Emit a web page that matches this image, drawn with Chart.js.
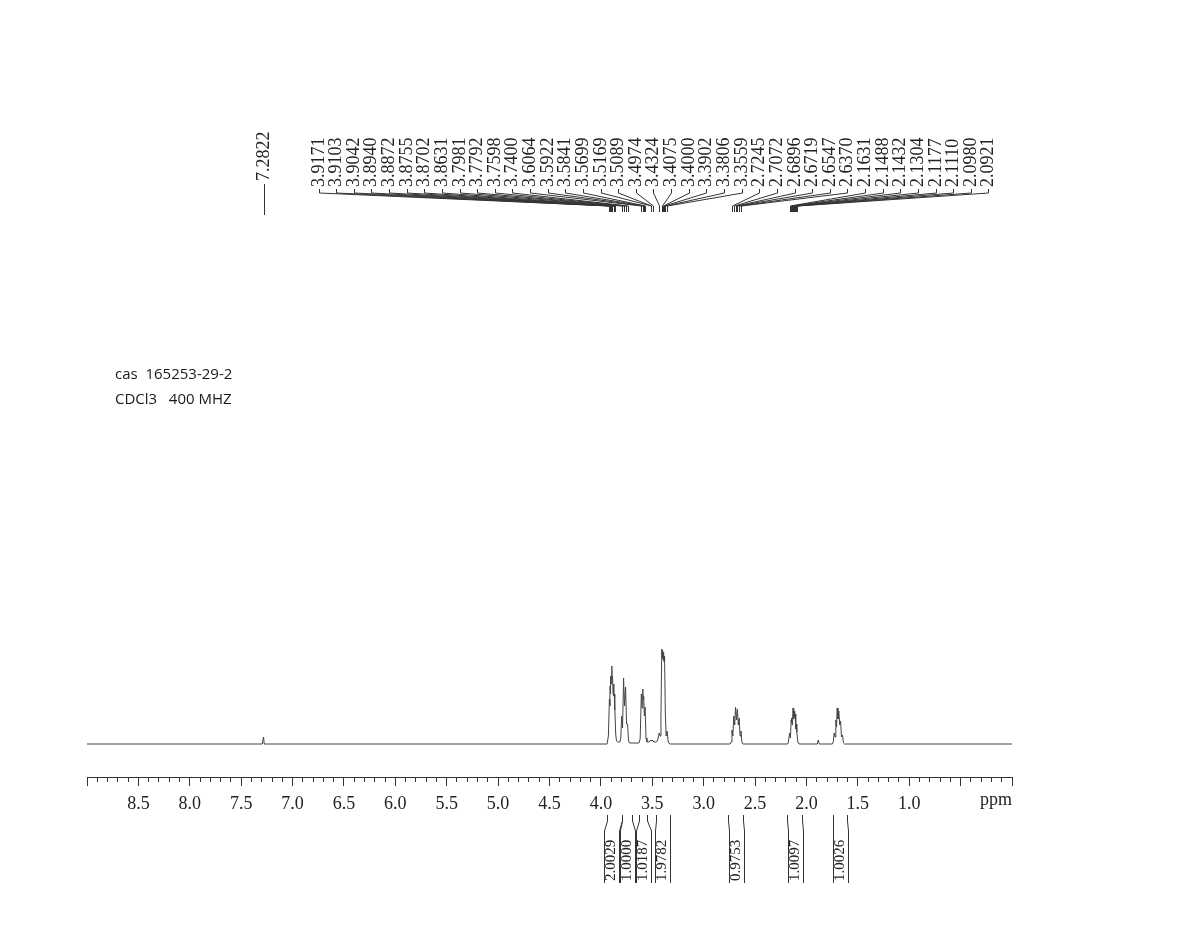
<!DOCTYPE html>
<html><head><meta charset="utf-8">
<script src="https://cdn.jsdelivr.net/npm/chart.js@4.4.1/dist/chart.umd.min.js"></script>
<style>html,body{margin:0;padding:0;background:#fff;overflow:hidden}canvas{display:block}</style>
</head><body>
<canvas id="c" width="1180" height="952"></canvas>
<script>
// ---- spectrum (ppm, intensity), left to right ----
const baseAPpm = [9.0, 7.295];                 const baseAInt = [0, 0];
const solvPpm  = [7.288, 7.2822, 7.276];       const solvInt  = [0, 7, 0];
const baseBPpm = [5.5, 3.94];                  const baseBInt = [0, 0];
const m390Ppm = [3.935, 3.927, 3.9171, 3.9135, 3.9103, 3.907, 3.9042, 3.899, 3.8940, 3.8905, 3.8872, 3.881, 3.8755, 3.8728, 3.8702, 3.867, 3.8631, 3.856, 3.848, 3.835];
const m390Int = [0, 8, 45, 38, 58, 50, 68, 60, 78, 64, 68, 50, 60, 48, 50, 34, 38, 10, 3, 2];
const m378Ppm = [3.815, 3.806, 3.7981, 3.789, 3.7792, 3.770, 3.7598, 3.750, 3.7400, 3.731, 3.72];
const m378Int = [2, 6, 28, 16, 66, 38, 57, 20, 20, 3, 1];
const m359Ppm = [3.63, 3.618, 3.6064, 3.599, 3.5922, 3.5885, 3.5841, 3.577, 3.5699, 3.561, 3.552];
const m359Int = [1, 5, 50, 36, 55, 44, 48, 28, 37, 6, 2];
const m350Ppm = [3.53, 3.5169, 3.5125, 3.5089, 3.503, 3.4974, 3.485, 3.465];
const m350Int = [2, 4, 3, 4, 3, 4, 2, 2];
const m340Ppm = [3.45, 3.4324, 3.424, 3.4155, 3.4075, 3.4035, 3.4000, 3.3950, 3.3902, 3.3855, 3.3806, 3.373, 3.365, 3.3559, 3.345, 3.33];
const m340Int = [3, 11, 8, 30, 95, 86, 94, 84, 92, 82, 88, 30, 8, 13, 2, 0];
const baseCPpm = [3.2, 2.75];                  const baseCInt = [0, 0];
const m269Ppm = [2.742, 2.733, 2.7245, 2.716, 2.7072, 2.698, 2.6896, 2.681, 2.6719, 2.663, 2.6547, 2.646, 2.6370, 2.628, 2.618];
const m269Int = [0, 2, 14, 8, 28, 19, 37, 24, 35, 19, 26, 8, 13, 2, 0];
const baseDPpm = [2.4, 2.185];                 const baseDInt = [0, 0];
const m213Ppm = [2.178, 2.1631, 2.156, 2.1488, 2.146, 2.1432, 2.137, 2.1304, 2.124, 2.1177, 2.1145, 2.1110, 2.104, 2.0980, 2.0955, 2.0921, 2.083, 2.072];
const m213Int = [1, 11, 6, 24, 21, 26, 19, 36, 25, 33, 27, 30, 15, 20, 16, 12, 2, 0];
const m188Ppm = [1.895, 1.885, 1.875];         const m188Int = [0, 4, 0];
const m170Ppm = [1.748, 1.739, 1.730, 1.722, 1.714, 1.707, 1.701, 1.693, 1.685, 1.676, 1.668, 1.659, 1.649, 1.640, 1.630];
const m170Int = [0, 2, 11, 7, 24, 17, 36, 25, 33, 19, 23, 7, 9, 1, 0];
const baseEPpm = [1.4, 0.0];                   const baseEInt = [0, 0];

// ---- peak pick labels ----
const solventLabel = '7.2822';
const peakLabels = ['3.9171','3.9103','3.9042','3.8940','3.8872','3.8755','3.8702','3.8631','3.7981','3.7792','3.7598','3.7400','3.6064','3.5922','3.5841','3.5699','3.5169','3.5089','3.4974','3.4324','3.4075','3.4000','3.3902','3.3806','3.3559','2.7245','2.7072','2.6896','2.6719','2.6547','2.6370','2.1631','2.1488','2.1432','2.1304','2.1177','2.1110','2.0980','2.0921'];

// ---- integrals ----
const intFrom = [3.944, 3.798, 3.629, 3.467, 2.761, 2.193, 1.740];
const intTo   = [3.798, 3.700, 3.549, 3.328, 2.615, 2.042, 1.604];
const intVals = ['2.0029','1.0000','1.0187','1.9782','0.9753','1.0097','1.0026'];

// ---- axis ----
const majorTickLabels = ['8.5','8.0','7.5','7.0','6.5','6.0','5.5','5.0','4.5','4.0','3.5','3.0','2.5','2.0','1.5','1.0'];
const infoLines = ['cas  165253-29-2', 'CDCl3   400 MHZ'];

// layout constants
const LABEL_X0 = 318.5, LABEL_DX = 17.63, LABEL_BOTTOM = 187;
const INT_LABEL_X = [611.5, 627, 643.5, 662, null, null, null];

const segP = [baseAPpm, solvPpm, baseBPpm, m390Ppm, m378Ppm, m359Ppm, m350Ppm, m340Ppm, baseCPpm, m269Ppm, baseDPpm, m213Ppm, m188Ppm, m170Ppm, baseEPpm];
const segI = [baseAInt, solvInt, baseBInt, m390Int, m378Int, m359Int, m350Int, m340Int, baseCInt, m269Int, baseDInt, m213Int, m188Int, m170Int, baseEInt];
const spectrum = [];
segP.forEach((arr, k) => arr.forEach((p, j) => spectrum.push({x: p, y: segI[k][j]})));

function isMajor(v) { const t = Math.round(v * 10); return t % 5 === 0; }

function rotText(ctx, s, x, y) {
  ctx.save();
  ctx.translate(x, y);
  ctx.rotate(-Math.PI / 2);
  ctx.textAlign = 'left';
  ctx.textBaseline = 'middle';
  ctx.fillText(s, 0, 0);
  ctx.restore();
}

const annot = {
  id: 'annot',
  afterDraw(chart) {
    const ctx = chart.ctx, xs = chart.scales.x;
    const px = (v) => Math.round(xs.getPixelForValue(v)) + 0.5;
    ctx.save();
    // info text
    ctx.fillStyle = '#1a1a1a';
    ctx.font = '15px "Open Sans"';
    ctx.textAlign = 'left'; ctx.textBaseline = 'middle';
    ctx.fillText(infoLines[0], 115, 375);
    ctx.fillText(infoLines[1], 115, 400);
    // ppm unit
    ctx.font = '18px "Liberation Serif"';
    ctx.fillStyle = '#222';
    ctx.textAlign = 'right'; ctx.textBaseline = 'top';
    ctx.fillText('ppm', xs.right, xs.top + 9 + 5);

    // peak labels
    ctx.strokeStyle = '#333'; ctx.lineWidth = 1;
    ctx.fillStyle = '#222';
    ctx.font = '18px "Liberation Serif"';
    const sx = px(parseFloat(solventLabel));
    rotText(ctx, solventLabel, sx, 181);
    ctx.beginPath(); ctx.moveTo(sx, 184); ctx.lineTo(sx, 215); ctx.stroke();
    peakLabels.forEach((s, i) => {
      const lx = Math.round(LABEL_X0 + i * LABEL_DX) + 0.5;
      const p = px(parseFloat(s));
      rotText(ctx, s, lx, LABEL_BOTTOM);
      ctx.beginPath();
      ctx.moveTo(lx, LABEL_BOTTOM + 2);
      ctx.lineTo(lx, 193);
      ctx.lineTo(p, 206);
      ctx.lineTo(p, 212);
      ctx.stroke();
    });

    // integrals
    ctx.font = '15px "Liberation Serif"';
    intVals.forEach((s, i) => {
      const a = px(intFrom[i]), b = px(intTo[i]);
      const cx = INT_LABEL_X[i] !== null ? INT_LABEL_X[i] : (a + b) / 2;
      const l = Math.round(cx - 7.5) + 0.5, r = Math.round(cx + 7.5) + 0.5;
      ctx.beginPath();
      ctx.moveTo(a, 815); ctx.lineTo(a, 821); ctx.lineTo(l, 831); ctx.lineTo(l, 883);
      ctx.moveTo(b, 815); ctx.lineTo(b, 821); ctx.lineTo(r, 831); ctx.lineTo(r, 883);
      ctx.stroke();
      rotText(ctx, s, cx, 881);
    });
    ctx.restore();
  }
};

new Chart(document.getElementById('c'), {
  type: 'scatter',
  data: { datasets: [{
    data: spectrum, showLine: true, borderColor: '#444', borderWidth: 1,
    pointRadius: 0, tension: 0, fill: false
  }]},
  options: {
    responsive: false, animation: false, devicePixelRatio: 1,
    layout: { padding: { left: 87, right: 168, top: 640, bottom: 135 } },
    plugins: { legend: { display: false }, tooltip: { enabled: false } },
    scales: {
      x: {
        type: 'linear', reverse: true, min: 0, max: 9,
        afterFit: (s) => { s.height = 40; },
        border: { display: true, color: '#333', width: 1 },
        grid: {
          drawOnChartArea: false, drawTicks: true, tickLength: 9, tickColor: '#333', tickWidth: 1,
          tickBorderDash: (c) => (c.tick && isMajor(c.tick.value)) ? [] : [4, 100]
        },
        ticks: {
          stepSize: 0.1, autoSkip: false, maxRotation: 0, minRotation: 0, padding: 7,
          color: '#222', font: { family: 'Liberation Serif', size: 18 },
          callback: (v) => {
            const s = (Math.round(v * 10) / 10).toFixed(1);
            return majorTickLabels.includes(s) ? s : '';
          }
        }
      },
      y: { display: false, min: -33, max: 104 }
    }
  },
  plugins: [annot]
});
</script>
</body></html>
